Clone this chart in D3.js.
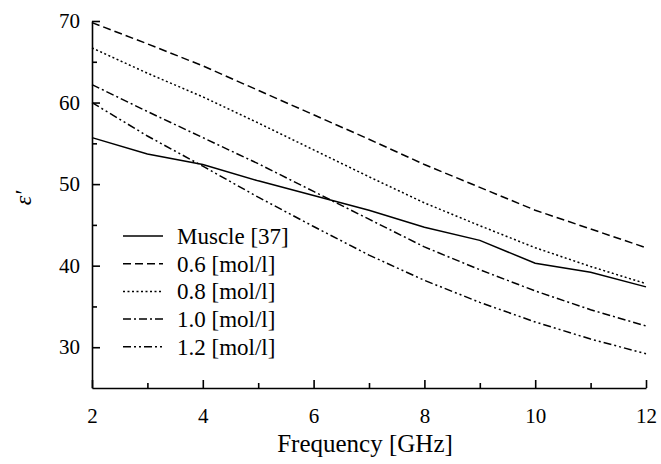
<!DOCTYPE html>
<html>
<head>
<meta charset="utf-8">
<script src="https://cdn.jsdelivr.net/npm/d3@7"></script>
<style>
  html, body { margin: 0; padding: 0; background: #fff; }
  svg text { font-family: "Liberation Serif", "Tinos", "Times New Roman", Times, "DejaVu Serif", serif !important; fill: #000; }
</style>
</head>
<body>
<svg id="chart" width="661" height="464"></svg>
<script>
const freq = [2, 3, 4, 5, 6, 7, 8, 9, 10, 11, 12];
const muscle = [55.7, 53.7, 52.4, 50.4, 48.6, 46.8, 44.7, 43.1, 40.3, 39.2, 37.4];
const mol06 = [69.8, 67.2, 64.5, 61.5, 58.5, 55.5, 52.4, 49.6, 46.8, 44.5, 42.2];
const mol08 = [66.7, 63.6, 60.7, 57.5, 54.2, 50.9, 47.7, 44.9, 42.2, 39.9, 37.8];
const mol10 = [62.2, 58.9, 55.7, 52.5, 49.1, 45.7, 42.3, 39.5, 36.9, 34.6, 32.6];
const mol12 = [60.0, 55.9, 52.2, 48.4, 44.8, 41.3, 38.2, 35.5, 33.1, 31.0, 29.2];
const seriesNames = ["Muscle [37]", "0.6 [mol/l]", "0.8 [mol/l]", "1.0 [mol/l]", "1.2 [mol/l]"];
const xMajorTicks = [2, 4, 6, 8, 10, 12];
const xMinorTicks = [3, 5, 7, 9, 11];
const yMajorTicks = [30, 40, 50, 60, 70];
const yMinorTicks = [35, 45, 55, 65];

const seriesValues = [muscle, mol06, mol08, mol10, mol12];
const dashes = [null, "8,4", "2,2.5", "8,3,2,3", "8,3,2,3,2,3"];
const serif = '"Liberation Serif", "Tinos", "Times New Roman", Times, "DejaVu Serif", serif';

const svg = d3.select("#chart");
const x = d3.scaleLinear().domain([2, 12]).range([92, 646]);
const y = d3.scaleLinear().domain([25, 70]).range([388, 21]);

// axes
const gx = svg.append("g").attr("transform", "translate(0,388)");
gx.call(d3.axisBottom(x).tickValues(xMajorTicks).tickSizeInner(-8).tickSizeOuter(0).tickPadding(20).tickFormat(d3.format("d")));
const gxm = svg.append("g").attr("transform", "translate(0,388)");
gxm.call(d3.axisBottom(x).tickValues(xMinorTicks).tickSizeInner(-5).tickSizeOuter(0).tickFormat(""));
gxm.select(".domain").remove();

const gy = svg.append("g").attr("transform", "translate(92,0)");
gy.call(d3.axisLeft(y).tickValues(yMajorTicks).tickSizeInner(-8).tickSizeOuter(0).tickPadding(12).tickFormat(d3.format("d")));
const gym = svg.append("g").attr("transform", "translate(92,0)");
gym.call(d3.axisLeft(y).tickValues(yMinorTicks).tickSizeInner(-5).tickSizeOuter(0).tickFormat(""));
gym.select(".domain").remove();

svg.selectAll("g").attr("font-family", serif);
svg.selectAll(".domain").attr("stroke", "#000").attr("stroke-width", 1.6);
svg.selectAll(".tick line").attr("stroke", "#000").attr("stroke-width", 1.6);
svg.selectAll(".tick text").attr("font-size", 21).style("font-family", serif).attr("fill", "#000");
gx.selectAll(".tick text").attr("dy", "0.71em");

// lines
const line = d3.line().x((d, i) => x(freq[i])).y(d => y(d));
seriesValues.forEach((vals, k) => {
  svg.append("path")
    .datum(vals)
    .attr("d", line)
    .attr("fill", "none")
    .attr("stroke", "#000")
    .attr("stroke-width", 1.5)
    .attr("stroke-dasharray", dashes[k]);
});

// axis titles
svg.append("text")
  .attr("x", 365).attr("y", 452)
  .attr("text-anchor", "middle")
  .attr("font-size", 25)
  .style("font-family", serif)
  .text("Frequency [GHz]");

svg.append("text")
  .attr("transform", "translate(31,198) rotate(-90)")
  .attr("text-anchor", "middle")
  .attr("font-size", 24)
  .attr("font-style", "italic")
  .style("font-family", serif)
  .text("ε′");

// legend
const legend = svg.append("g");
seriesNames.forEach((name, k) => {
  const yy = 236 + k * 27.7;
  legend.append("line")
    .attr("x1", 123).attr("x2", 163).attr("y1", yy).attr("y2", yy)
    .attr("stroke", "#000").attr("stroke-width", 1.5)
    .attr("stroke-dasharray", dashes[k]);
  legend.append("text")
    .attr("x", 177).attr("y", yy)
    .attr("dy", "0.35em")
    .attr("font-size", 23)
    .style("font-family", serif)
    .text(name);
});
</script>
</body>
</html>
